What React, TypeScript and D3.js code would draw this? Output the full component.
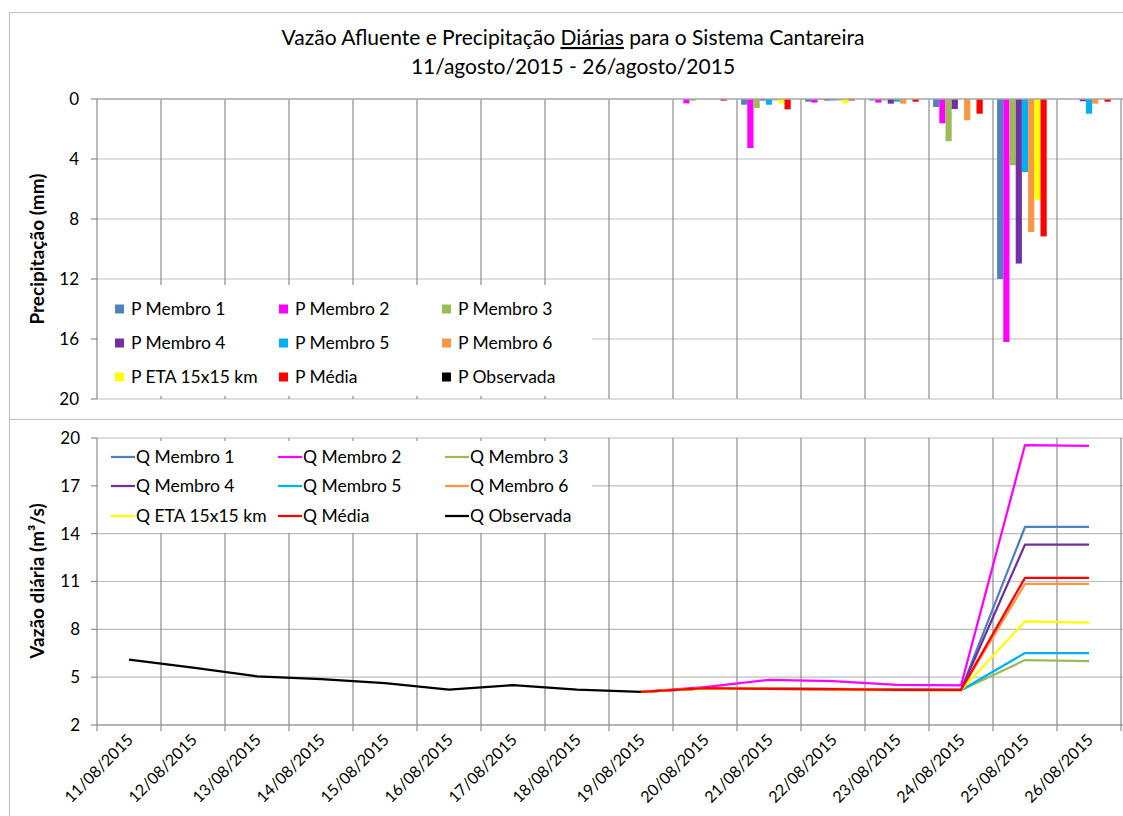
import React from 'react';
import * as d3 from 'd3';

// Categories
const dates = [
  '11/08/2015', '12/08/2015', '13/08/2015', '14/08/2015', '15/08/2015', '16/08/2015',
  '17/08/2015', '18/08/2015', '19/08/2015', '20/08/2015', '21/08/2015', '22/08/2015',
  '23/08/2015', '24/08/2015', '25/08/2015', '26/08/2015',
];

// Precipitation (mm)
const pMembro1 = [0, 0, 0, 0, 0, 0, 0, 0, 0, 0, 0.38, 0.18, 0.1, 0.53, 12.0, 0];
const pMembro2 = [0, 0, 0, 0, 0, 0, 0, 0, 0, 0.29, 3.27, 0.24, 0.24, 1.62, 16.2, 0];
const pMembro3 = [0, 0, 0, 0, 0, 0, 0, 0, 0, 0.11, 0.6, 0.05, 0.1, 2.82, 4.42, 0];
const pMembro4 = [0, 0, 0, 0, 0, 0, 0, 0, 0, 0, 0.1, 0.1, 0.31, 0.67, 10.97, 0.15];
const pMembro5 = [0, 0, 0, 0, 0, 0, 0, 0, 0, 0, 0.38, 0.1, 0.18, 0, 4.87, 0.98];
const pMembro6 = [0, 0, 0, 0, 0, 0, 0, 0, 0, 0, 0.1, 0.1, 0.31, 1.42, 8.87, 0.31];
const pEta = [0, 0, 0, 0, 0, 0, 0, 0, 0, 0, 0.29, 0.29, 0, 0, 6.71, 0];
const pMedia = [0, 0, 0, 0, 0, 0, 0, 0, 0, 0.11, 0.69, 0.1, 0.18, 0.98, 9.16, 0.18];
const pObservada = [0, 0, 0, 0, 0, 0, 0, 0, 0, 0, 0, 0, 0, 0, 0, 0];

// Daily flow (m3/s)
const N = null;
const qMembro1 = [N, N, N, N, N, N, N, N, 4.08, 4.3, 4.28, 4.26, 4.22, 4.2, 14.42, 14.42];
const qMembro2 = [N, N, N, N, N, N, N, N, 4.08, 4.37, 4.83, 4.75, 4.52, 4.48, 19.56, 19.5];
const qMembro3 = [N, N, N, N, N, N, N, N, 4.08, 4.3, 4.27, 4.24, 4.2, 4.18, 6.07, 6.0];
const qMembro4 = [N, N, N, N, N, N, N, N, 4.08, 4.3, 4.28, 4.25, 4.22, 4.2, 13.31, 13.31];
const qMembro5 = [N, N, N, N, N, N, N, N, 4.08, 4.3, 4.27, 4.24, 4.2, 4.18, 6.51, 6.51];
const qMembro6 = [N, N, N, N, N, N, N, N, 4.08, 4.3, 4.3, 4.2, 4.18, 4.18, 10.85, 10.85];
const qEta = [N, N, N, N, N, N, N, N, 4.08, 4.3, 4.27, 4.25, 4.2, 4.18, 8.5, 8.42];
const qMedia = [N, N, N, N, N, N, N, N, 4.08, 4.31, 4.27, 4.25, 4.2, 4.2, 11.23, 11.23];
const qObservada = [6.1, 5.6, 5.05, 4.88, 4.63, 4.22, 4.5, 4.22, 4.08, N, N, N, N, N, N, N];

const colors = ['#4F81BD', '#FF00FF', '#9BBB59', '#7030A0', '#00B0F0', '#F79646', '#FFFF00', '#FF0000', '#000000'];
const names = ['Membro 1', 'Membro 2', 'Membro 3', 'Membro 4', 'Membro 5', 'Membro 6', 'ETA 15x15 km', 'Média', 'Observada'];
const pSeries = [pMembro1, pMembro2, pMembro3, pMembro4, pMembro5, pMembro6, pEta, pMedia, pObservada];
const qSeries = [qMembro1, qMembro2, qMembro3, qMembro4, qMembro5, qMembro6, qEta, qMedia, qObservada];

const pTicks = [0, 4, 8, 12, 16, 20];
const qTicks = [2, 5, 8, 11, 14, 17, 20];

const font = 'Lato, "Open Sans", sans-serif';
const vGrid = '#8c8c8c';
const hGrid = '#bdbdbd';

const App = () => {
  // x scale shared by both panels
  const x = d3.scaleBand().domain(dates).range([97, 1121]);
  const bw = x.bandwidth();
  const inner = d3.scaleBand<number>()
    .domain(d3.range(9))
    .range([0, bw])
    .paddingOuter(0.66);

  const yP = d3.scaleLinear().domain([0, 20]).range([99, 399]);
  const yQ = d3.scaleLinear().domain([2, 20]).range([725, 438]);

  const line = d3.line<number | null>()
    .defined(d => d !== null)
    .x((_, i) => x(dates[i])! + bw / 2)
    .y(d => yQ(d as number));

  const bounds = dates.map(d => x(d)!).concat([x(dates[dates.length - 1])! + bw]);

  const legendCols = [115, 279, 442];
  const legendRowsP = [309, 343, 377];
  const legendRowsQ = [457, 486, 516];
  const qCols = [111, 278, 445];

  return (
    <svg width={1123} height={816} style={{ position: 'absolute', left: 0, top: 0, background: '#fff' }} fontFamily={font}>
      {/* frame */}
      <rect x={9.5} y={12.5} width={1130} height={830} fill="none" stroke="#bfbfbf" />
      <line x1={9} x2={1123} y1={419.5} y2={419.5} stroke="#bfbfbf" />

      {/* title */}
      <text x={573} y={45} textAnchor="middle" fontSize={21}>
        Vazão Afluente e Precipitação <tspan textDecoration="underline">Diárias</tspan> para o Sistema Cantareira
      </text>
      <text x={573} y={74} textAnchor="middle" fontSize={21}>11/agosto/2015 - 26/agosto/2015</text>

      {/* ---------- Precipitation panel ---------- */}
      {pTicks.slice(1).map(t => (
        <line key={'pg' + t} x1={97} x2={1123} y1={yP(t)} y2={yP(t)} stroke={hGrid} strokeWidth={1.2} />
      ))}
      {bounds.slice(1).map((b, i) => (
        <line key={'pv' + i} x1={b} x2={b} y1={99} y2={399} stroke={vGrid} strokeWidth={1.2} />
      ))}
      <line x1={97} x2={97} y1={99} y2={399} stroke="#8c8c8c" strokeWidth={1.2} />
      {pTicks.map(t => (
        <g key={'pt' + t}>
          <line x1={91} x2={97} y1={yP(t)} y2={yP(t)} stroke="#8c8c8c" strokeWidth={1.2} />
          <text x={79} y={yP(t)} dy="0.35em" textAnchor="end" fontSize={17}>{t}</text>
        </g>
      ))}

      {/* legend box (P) */}
      <rect x={98} y={285} width={494} height={111} fill="#fff" />
      {pSeries.map((_, s) => {
        const cx = legendCols[s % 3];
        const cy = legendRowsP[Math.floor(s / 3)];
        return (
          <g key={'pl' + s}>
            <rect x={cx} y={cy - 4.5} width={9} height={9} fill={colors[s]} />
            <text x={cx + 16} y={cy} dy="0.36em" fontSize={17.5}>{'P ' + names[s]}</text>
          </g>
        );
      })}

      {/* bars */}
      {pSeries.map((vals, s) =>
        vals.map((v, i) => v > 0 ? (
          <rect key={'b' + s + '-' + i}
            x={x(dates[i])! + inner(s)!}
            y={yP(0)}
            width={inner.bandwidth()}
            height={yP(v) - yP(0)}
            fill={colors[s]} />
        ) : null)
      )}
      <line x1={97} x2={1123} y1={99} y2={99} stroke="#a6a6a6" strokeWidth={1.5} />

      <text transform="translate(44,249) rotate(-90)" textAnchor="middle" fontSize={19} fontWeight="bold">
        Precipitação (mm)
      </text>

      {/* ---------- Flow panel ---------- */}
      {qTicks.map(t => (
        <line key={'qg' + t} x1={97} x2={1123} y1={yQ(t)} y2={yQ(t)} stroke={hGrid} strokeWidth={1.2} />
      ))}
      {bounds.slice(1).map((b, i) => (
        <line key={'qv' + i} x1={b} x2={b} y1={438} y2={731} stroke={vGrid} strokeWidth={1.2} />
      ))}
      <line x1={97} x2={97} y1={438} y2={731} stroke="#8c8c8c" strokeWidth={1.2} />
      <line x1={97} x2={1123} y1={725} y2={725} stroke="#8c8c8c" strokeWidth={1.2} />
      {qTicks.map(t => (
        <g key={'qt' + t}>
          <line x1={91} x2={97} y1={yQ(t)} y2={yQ(t)} stroke="#8c8c8c" strokeWidth={1.2} />
          <text x={80} y={yQ(t)} dy="0.35em" textAnchor="end" fontSize={17}>{t}</text>
        </g>
      ))}

      {/* legend box (Q) */}
      <rect x={98} y={441} width={494} height={92} fill="#fff" />
      {qSeries.map((_, s) => {
        const cx = qCols[s % 3];
        const cy = legendRowsQ[Math.floor(s / 3)];
        return (
          <g key={'ql' + s}>
            <line x1={cx} x2={cx + 24} y1={cy} y2={cy} stroke={colors[s]} strokeWidth={2.25} />
            <text x={cx + 25} y={cy} dy="0.36em" fontSize={17.5}>{'Q ' + names[s]}</text>
          </g>
        );
      })}

      {/* lines */}
      {qSeries.map((vals, s) => (
        <path key={'l' + s} d={line(vals) || ''} fill="none" stroke={colors[s]} strokeWidth={2.25} strokeLinejoin="round" />
      ))}

      <text transform="translate(44,581) rotate(-90)" textAnchor="middle" fontSize={19} fontWeight="bold">
        Vazão diária (m³/s)
      </text>

      {/* date labels */}
      {dates.map(d => (
        <text key={'d' + d}
          transform={`translate(${x(d)! + bw / 2 + 5},${741}) rotate(-45)`}
          textAnchor="end" fontSize={16}>{d}</text>
      ))}
    </svg>
  );
};

export default App;
